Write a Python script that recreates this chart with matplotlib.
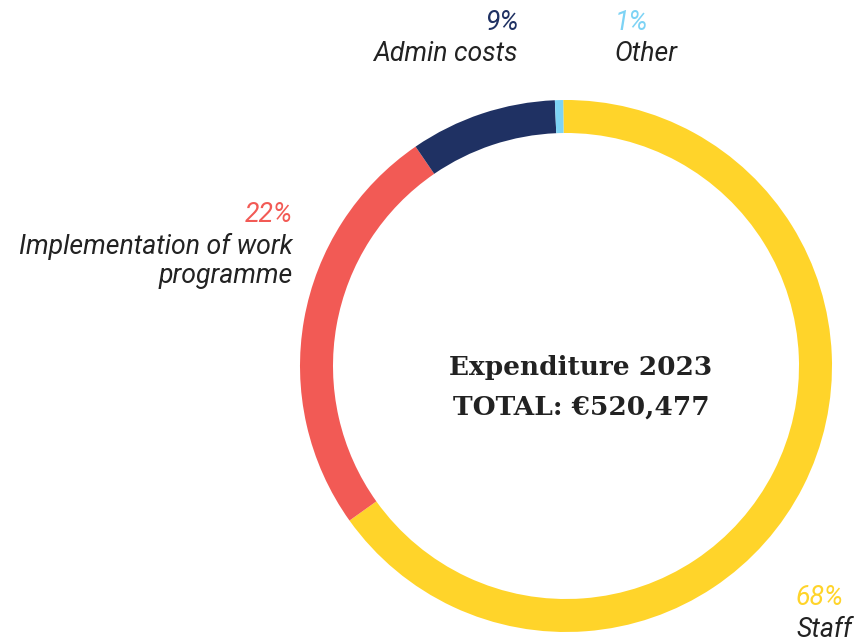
import matplotlib.pyplot as plt

# 支出数据（按圆环上画出的弧长读取）
categories = ["Staff", "Implementation of work\nprogramme", "Admin costs", "Other"]
shares = [65.3, 25.3, 8.9, 0.5]
pct_labels = ["68%", "22%", "9%", "1%"]
colors = ["#FFD42A", "#F25A55", "#1F3163", "#7DD3F5"]

W, H = 867, 643
fig = plt.figure(figsize=(W / 100, H / 100), dpi=100)
ax = fig.add_axes([0, 0, 1, 1])

# 圆环
ax.pie(shares, colors=colors, startangle=90.6, counterclock=False,
       center=(566, H - 366), radius=266, frame=True,
       wedgeprops=dict(width=33, linewidth=0))
ax.set_xlim(0, W)
ax.set_ylim(0, H)
ax.set_aspect("equal")
ax.axis("off")

dark = "#222222"
fs = 19.2
lab = dict(family="Roboto", style="italic", fontsize=fs)

# 标签 (x, 百分比基线y, 名称基线y, 对齐)
pos = [(796, 605, 637, "left"),
       (293, 222, 254, "right"),
       (518, 30, 61, "right"),
       (615, 30, 61, "left")]
for (x, yp, yl, ha), name, p, c in zip(pos, categories, pct_labels, colors):
    ax.text(x, H - yp, p, color=c, ha=ha, va="baseline", **lab)
    for k, ln in enumerate(name.split("\n")):
        ax.text(x, H - yl - 29 * k, ln, color=dark, ha=ha, va="baseline", **lab)

# 中心文字
ax.text(581, H - 375, "Expenditure 2023", ha="center", va="baseline",
        family="DejaVu Serif", fontweight="bold", fontsize=19, color=dark)
ax.text(581, H - 415, "TOTAL: €520,477", ha="center", va="baseline",
        family="DejaVu Serif", fontweight="bold", fontsize=19, color=dark)

plt.savefig("out.png", dpi=100)
